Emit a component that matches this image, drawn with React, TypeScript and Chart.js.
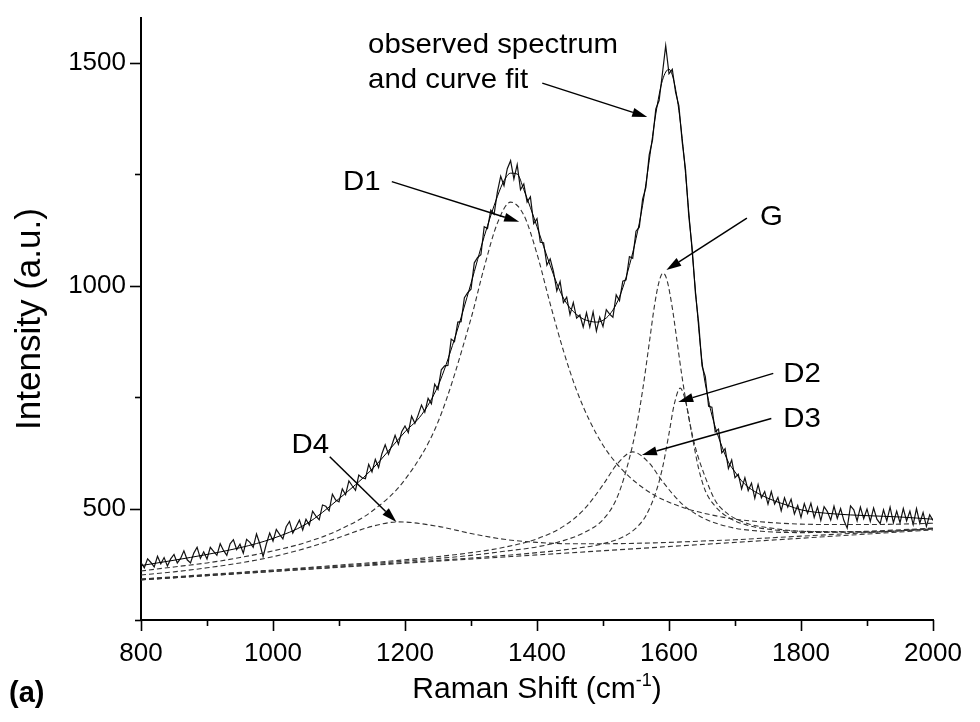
import React, { useEffect, useRef } from 'react';
import { Chart, registerables } from 'chart.js';

Chart.register(...registerables);

// ---------- data ----------
// observed Raman spectrum, sampled every 5 cm-1 from 800 to 2000
const SHIFT_START = 800;
const SHIFT_STEP = 5;
const observedIntensity = [
  379, 367, 387, 379, 369, 393, 376, 390, 371, 387,
  397, 378, 388, 405, 385, 378, 400, 413, 388, 403,
  387, 413, 404, 395, 421, 406, 395, 421, 430, 408,
  420, 400, 431, 424, 413, 443, 421, 392, 421, 445,
  427, 453, 442, 432, 459, 471, 445, 459, 474, 452,
  476, 463, 494, 483, 475, 508, 505, 495, 532, 519,
  515, 544, 531, 562, 551, 541, 575, 569, 567, 599,
  582, 610, 592, 623, 643, 622, 642, 664, 644, 672,
  685, 670, 707, 691, 710, 732, 716, 747, 735, 779,
  767, 811, 820, 821, 880, 874, 918, 919, 973, 984,
  992, 1051, 1063, 1069, 1132, 1128, 1169, 1160, 1210, 1245,
  1224, 1262, 1280, 1239, 1271, 1215, 1228, 1187, 1199, 1139,
  1150, 1097, 1096, 1046, 1060, 1031, 988, 1009, 962, 974,
  935, 962, 927, 934, 907, 939, 907, 941, 898, 929,
  908, 946, 936, 929, 979, 966, 1010, 1013, 1065, 1061,
  1122, 1131, 1194, 1220, 1293, 1326, 1396, 1415, 1475, 1538,
  1475, 1485, 1433, 1403, 1322, 1261, 1155, 1086, 983, 916,
  820, 796, 729, 727, 672, 678, 625, 634, 590, 609,
  569, 577, 544, 569, 540, 557, 523, 554, 524, 538,
  510, 538, 510, 525, 495, 524, 503, 521, 488, 507,
  480, 511, 489, 512, 480, 503, 473, 504, 493, 474,
  505, 478, 500, 473, 456, 506, 497, 472, 503, 477,
  499, 471, 501, 476, 466, 497, 472, 503, 468, 494,
  468, 500, 472, 494, 464, 500, 467, 491, 460, 486,
  473,
];

// overall curve fit
const fitShift = [800, 850, 900, 950, 1000, 1050, 1100, 1150, 1200, 1225, 1250, 1275, 1300, 1320, 1340, 1350, 1360, 1370, 1380, 1390, 1400, 1410, 1420, 1430, 1440, 1450, 1460, 1470, 1480, 1490, 1500, 1510, 1520, 1530, 1540, 1550, 1560, 1570, 1580, 1590, 1600, 1610, 1620, 1630, 1640, 1650, 1660, 1670, 1680, 1690, 1700, 1710, 1720, 1740, 1760, 1780, 1800, 1850, 1900, 1950, 2000];
const fitIntensity = [372, 384, 397, 412, 433, 465, 522, 588, 672, 710, 775, 880, 1005, 1110, 1200, 1235, 1252, 1250, 1215, 1175, 1132, 1088, 1045, 1005, 972, 950, 935, 925, 920, 918, 922, 935, 958, 995, 1045, 1105, 1180, 1280, 1385, 1460, 1485, 1440, 1330, 1165, 990, 830, 742, 683, 640, 604, 582, 562, 548, 530, 517, 507, 497, 488, 484, 481, 476];

// fitted bands (each drawn on top of the baseline)
const baselineShift = [800, 2000];
const baselineIntensity = [340, 452];

const d1Shift = [800, 850, 900, 950, 1000, 1050, 1100, 1150, 1200, 1250, 1300, 1320, 1340, 1360, 1380, 1400, 1420, 1440, 1460, 1480, 1500, 1520, 1540, 1560, 1580, 1600, 1620, 1640, 1660, 1680, 1700, 1750, 1800, 1850, 1900, 1950, 2000];
const d1Intensity = [360, 369, 378, 390, 405, 424, 452, 494, 565, 694, 926, 1041, 1140, 1187, 1158, 1071, 959, 854, 765, 696, 642, 602, 571, 547, 528, 514, 503, 494, 487, 481, 476, 469, 465, 464, 464, 465, 467];

const d4Shift = [800, 850, 900, 950, 1000, 1050, 1100, 1150, 1190, 1250, 1300, 1350, 1400, 1450, 1500, 1550, 1600, 1650, 1700, 1750, 1800, 1850, 1900, 1950, 2000];
const d4Intensity = [351, 358, 367, 378, 392, 411, 435, 460, 470, 460, 444, 431, 424, 421, 421, 422, 424, 427, 430, 434, 438, 442, 446, 450, 454];

const gShift = [800, 900, 1000, 1100, 1200, 1300, 1350, 1400, 1440, 1470, 1500, 1520, 1535, 1550, 1560, 1570, 1578, 1585, 1591, 1597, 1605, 1612, 1620, 1630, 1640, 1655, 1670, 1690, 1720, 1760, 1800, 1900, 2000];
const gIntensity = [341, 351, 361, 371, 382, 395, 404, 414, 428, 445, 475, 520, 585, 678, 765, 870, 955, 1009, 1028, 1012, 950, 877, 793, 704, 637, 570, 518, 487, 466, 455, 449, 447, 455];

const d2Shift = [800, 1000, 1200, 1300, 1400, 1450, 1500, 1530, 1550, 1565, 1580, 1590, 1600, 1608, 1617, 1626, 1635, 1645, 1655, 1670, 1690, 1720, 1760, 1800, 1900, 2000];
const d2Intensity = [340, 359, 379, 389, 401, 409, 421, 436, 456, 484, 536, 590, 668, 734, 770, 735, 663, 589, 540, 505, 480, 462, 452, 449, 448, 454];

const d3Shift = [800, 900, 1000, 1100, 1200, 1300, 1350, 1400, 1440, 1470, 1500, 1520, 1545, 1570, 1590, 1620, 1650, 1690, 1740, 1800, 1900, 2000];
const d3Intensity = [342, 352, 362, 373, 385, 401, 413, 432, 460, 496, 553, 597, 627, 602, 561, 510, 480, 459, 449, 446, 449, 456];

// annotations (data coordinates)
const labelTexts = ['observed spectrum', 'and curve fit', 'D1', 'G', 'D2', 'D3', 'D4'];
const labelShift = [1144, 1144, 1106, 1738, 1773, 1773, 1028];
const labelIntensity = [1521, 1443, 1214, 1136, 784, 683, 624];

const arrowFromShift = [1408, 1180, 1718, 1758, 1755, 1086];
const arrowFromIntensity = [1454, 1233, 1151, 803, 702, 616];
const arrowToShift = [1567, 1373, 1596, 1614, 1559, 1187];
const arrowToIntensity = [1378, 1143, 1035, 739, 620, 470];

const X_TITLE = 'Raman Shift (cm';
const X_TITLE_SUP = '-1';
const Y_TITLE = 'Intensity (a.u.)';
const PANEL = '(a)';

const pts = (xs: number[], ys: number[]) => xs.map((x, i) => ({ x, y: ys[i] }));

export default function App() {
  const ref = useRef<HTMLCanvasElement>(null);

  useEffect(() => {
    if (!ref.current) return;
    const FONT = '"Liberation Sans", Arial, Helvetica, sans-serif';

    const observedPts = observedIntensity.map((y, i) => ({ x: SHIFT_START + i * SHIFT_STEP, y }));

    const dashed = (label: string, xs: number[], ys: number[]) => ({
      label,
      data: pts(xs, ys),
      borderColor: '#333',
      borderWidth: 1.1,
      borderDash: [5, 3],
      pointRadius: 0,
      showLine: true,
      fill: false,
      cubicInterpolationMode: 'monotone' as const,
    });

    const decor = {
      id: 'decor',
      afterDraw(chart: any) {
        const ctx: CanvasRenderingContext2D = chart.ctx;
        const xs = chart.scales.x;
        const ys = chart.scales.y;
        const area = chart.chartArea;
        ctx.save();
        ctx.strokeStyle = '#000';
        ctx.fillStyle = '#000';
        ctx.lineWidth = 1.6;
        // tick marks
        xs.ticks.forEach((t: any) => {
          if (t.value % 100 !== 0) return;
          const p = Math.round(xs.getPixelForValue(t.value)) + 0.5;
          const len = t.value % 200 === 0 ? 11 : 6;
          ctx.beginPath();
          ctx.moveTo(p, area.bottom);
          ctx.lineTo(p, area.bottom + len);
          ctx.stroke();
        });
        ys.ticks.forEach((t: any) => {
          if (t.value % 250 !== 0) return;
          const p = Math.round(ys.getPixelForValue(t.value)) + 0.5;
          const len = t.value % 500 === 0 ? 11 : 6;
          ctx.beginPath();
          ctx.moveTo(area.left, p);
          ctx.lineTo(area.left - len, p);
          ctx.stroke();
        });

        // arrows
        ctx.lineWidth = 1.5;
        arrowFromShift.forEach((fx, i) => {
          const x1 = xs.getPixelForValue(fx);
          const y1 = ys.getPixelForValue(arrowFromIntensity[i]);
          const x2 = xs.getPixelForValue(arrowToShift[i]);
          const y2 = ys.getPixelForValue(arrowToIntensity[i]);
          const ang = Math.atan2(y2 - y1, x2 - x1);
          const hl = 15;
          const hw = 4.5;
          const bx = x2 - hl * Math.cos(ang);
          const by = y2 - hl * Math.sin(ang);
          ctx.beginPath();
          ctx.moveTo(x1, y1);
          ctx.lineTo(bx, by);
          ctx.stroke();
          ctx.beginPath();
          ctx.moveTo(x2, y2);
          ctx.lineTo(bx + hw * Math.sin(ang), by - hw * Math.cos(ang));
          ctx.lineTo(bx - hw * Math.sin(ang), by + hw * Math.cos(ang));
          ctx.closePath();
          ctx.fill();
        });

        // labels
        ctx.font = `28px ${FONT}`;
        ctx.textAlign = 'left';
        ctx.textBaseline = 'alphabetic';
        labelTexts.forEach((txt, i) => {
          ctx.save();
          ctx.translate(xs.getPixelForValue(labelShift[i]), ys.getPixelForValue(labelIntensity[i]));
          ctx.scale(1.05, 1);
          ctx.fillText(txt, 0, 0);
          ctx.restore();
        });

        // y title
        ctx.save();
        ctx.font = `35px ${FONT}`;
        ctx.textAlign = 'center';
        ctx.textBaseline = 'middle';
        ctx.translate(30, (area.top + area.bottom) / 2);
        ctx.rotate(-Math.PI / 2);
        ctx.fillText(Y_TITLE, 0, 0);
        ctx.restore();

        // x title with superscript
        const mainFont = `30px ${FONT}`;
        const supFont = `18px ${FONT}`;
        ctx.font = mainFont;
        const w1 = ctx.measureText(X_TITLE).width;
        const w3 = ctx.measureText(')').width;
        ctx.font = supFont;
        const w2 = ctx.measureText(X_TITLE_SUP).width;
        let sx = (area.left + area.right) / 2 - (w1 + w2 + w3) / 2;
        const by = 698;
        ctx.textAlign = 'left';
        ctx.textBaseline = 'alphabetic';
        ctx.font = mainFont;
        ctx.fillText(X_TITLE, sx, by);
        sx += w1;
        ctx.font = supFont;
        ctx.fillText(X_TITLE_SUP, sx, by - 12);
        sx += w2;
        ctx.font = mainFont;
        ctx.fillText(')', sx, by);

        // panel letter
        ctx.font = `bold 29px ${FONT}`;
        ctx.fillText(PANEL, 9, 702);
        ctx.restore();
      },
    };

    const chart = new Chart(ref.current, {
      type: 'scatter',
      data: {
        datasets: [
          dashed('baseline', baselineShift, baselineIntensity),
          dashed('D4', d4Shift, d4Intensity),
          dashed('D3', d3Shift, d3Intensity),
          dashed('D2', d2Shift, d2Intensity),
          dashed('G', gShift, gIntensity),
          dashed('D1', d1Shift, d1Intensity),
          {
            label: 'curve fit',
            data: pts(fitShift, fitIntensity),
            borderColor: '#000',
            borderWidth: 1,
            pointRadius: 0,
            showLine: true,
            fill: false,
            cubicInterpolationMode: 'monotone',
          } as any,
          {
            label: 'observed spectrum',
            data: observedPts,
            borderColor: '#111',
            borderWidth: 1.2,
            pointRadius: 0,
            showLine: true,
            fill: false,
            tension: 0,
          } as any,
        ],
      },
      options: {
        animation: false,
        responsive: false,
        devicePixelRatio: 1,
        layout: { padding: { top: 18, right: 47, bottom: 0, left: 0 } },
        plugins: { legend: { display: false }, tooltip: { enabled: false } },
        scales: {
          x: {
            type: 'linear',
            min: 800,
            max: 2000,
            border: { display: true, color: '#000', width: 2 },
            grid: { display: false, drawOnChartArea: false, drawTicks: false },
            ticks: {
              stepSize: 100,
              autoSkip: false,
              maxRotation: 0,
              padding: 18,
              color: '#000',
              font: { family: FONT, size: 26 },
              callback: (v: any) => (Number(v) % 200 === 0 ? String(v) : ''),
            },
            afterFit: (s: any) => {
              s.height = 102;
              s.paddingLeft = 0;
              s.paddingRight = 0;
            },
          },
          y: {
            type: 'linear',
            min: 250,
            max: 1600,
            border: { display: true, color: '#000', width: 2 },
            grid: { display: false, drawOnChartArea: false, drawTicks: false },
            ticks: {
              stepSize: 250,
              autoSkip: false,
              padding: 15,
              color: '#000',
              font: { family: FONT, size: 26 },
              callback: (v: any) => (Number(v) % 500 === 0 ? String(v) : ''),
            },
            afterFit: (s: any) => {
              s.width = 141;
              s.paddingTop = 0;
              s.paddingBottom = 0;
            },
          },
        },
      },
      plugins: [decor],
    });

    return () => chart.destroy();
  }, []);

  return (
    <div style={{ position: 'absolute', left: 0, top: 0, width: 980, height: 722, background: '#fff' }}>
      <canvas ref={ref} width={980} height={722} style={{ display: 'block' }} />
    </div>
  );
}
